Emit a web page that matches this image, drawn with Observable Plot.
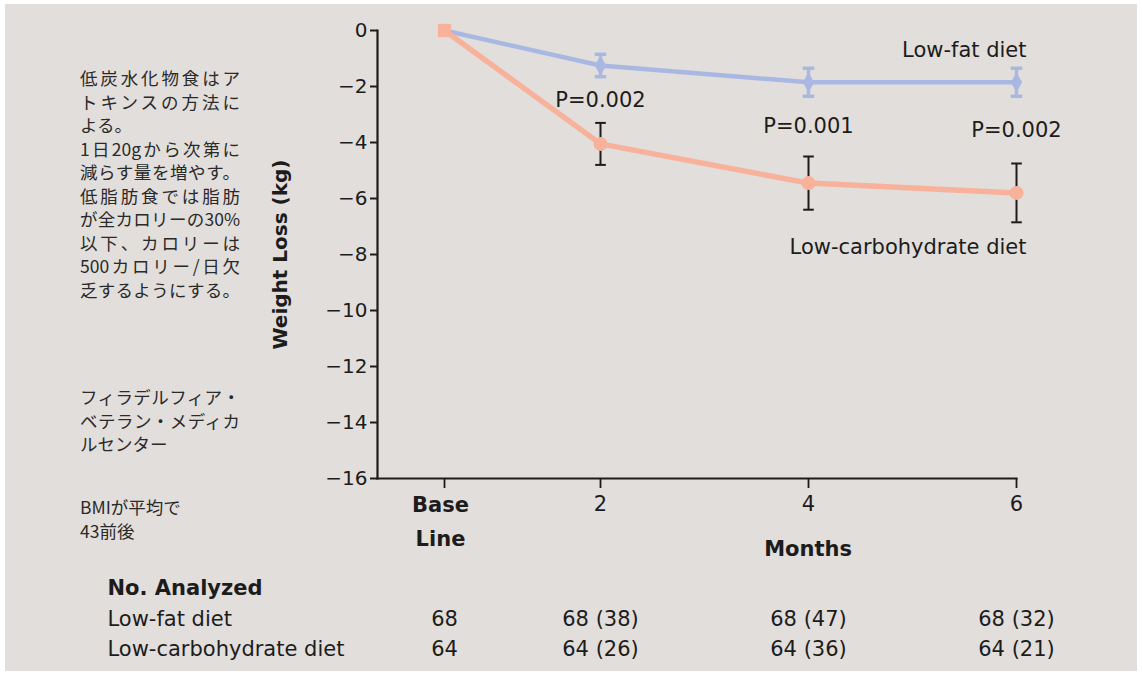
<!DOCTYPE html>
<html><head><meta charset="utf-8">
<script src="https://cdn.jsdelivr.net/npm/d3@7"></script>
<script src="https://cdn.jsdelivr.net/npm/@observablehq/plot@0.6"></script>
<style>
html,body{margin:0;padding:0;background:#fff;}
#page{position:relative;width:1142px;height:675px;overflow:hidden;}
#bg{position:absolute;left:5px;top:4px;width:1132px;height:667px;background:#e2dedb;}
#chart{position:absolute;left:0;top:0;}
.note{position:absolute;left:80px;width:160px;font-family:"Noto Sans CJK JP";font-size:17.5px;line-height:23.5px;color:#2a2a2a;}
.note div{white-space:nowrap;}
.note .j{text-align:justify;text-align-last:justify;white-space:normal;}
</style></head>
<body><div id="page"><div id="bg"></div><div id="chart"></div>
<div class="note" style="top:66px">
<div class="j">低炭水化物食はア</div>
<div class="j">トキンスの方法に</div>
<div>よる。</div>
<div class="j">1日20gから次第に</div>
<div class="j">減らす量を増やす。</div>
<div class="j">低脂肪食では脂肪</div>
<div class="j">が全カロリーの30%</div>
<div class="j">以下、カロリーは</div>
<div class="j">500カロリー/日欠</div>
<div class="j">乏するようにする。</div>
</div>
<div class="note" style="top:385px">
<div class="j">フィラデルフィア・</div>
<div class="j">ベテラン・メディカ</div>
<div>ルセンター</div>
</div>
<div class="note" style="top:495px">
<div>BMIが平均で</div>
<div>43前後</div>
</div>
</div>
<script>
const months = [0, 2, 4, 6];
const monthLabels = ["Base\nLine", "2", "4", "6"];
const lowFatMean = [0, -1.25, -1.85, -1.85];
const lowFatErr = [0, 0.4, 0.5, 0.5];
const lowCarbMean = [0, -4.05, -5.45, -5.8];
const lowCarbErr = [0, 0.75, 0.95, 1.05];
const pLabels = ["", "P=0.002", "P=0.001", "P=0.002"];
const seriesNames = ["Low-fat diet", "Low-carbohydrate diet"];
const nLowFat = ["68", "68 (38)", "68 (47)", "68 (32)"];
const nLowCarb = ["64", "64 (26)", "64 (36)", "64 (21)"];
const yTicks = [0, -2, -4, -6, -8, -10, -12, -14, -16];
const yLabel = "Weight Loss (kg)";
const xLabel = "Months";
const tableTitle = "No. Analyzed";

const blue = "#a9b8e2";
const salmon = "#f8b29b";
const ink = "#1c1c1c";

const lf = months.map((m, i) => ({m, v: lowFatMean[i], e: lowFatErr[i]}));
const lc = months.map((m, i) => ({m, v: lowCarbMean[i], e: lowCarbErr[i]}));
const lfE = lf.filter(d => d.e > 0);
const lcE = lc.filter(d => d.e > 0);
const pData = months.map((m, i) => ({m, p: pLabels[i], y: ((lowFatMean[i] - lowFatErr[i]) + (lowCarbMean[i] + lowCarbErr[i])) / 2})).filter(d => d.p);

const cap = {draw(ctx, size) { const w = Math.sqrt(size) / 2; ctx.moveTo(-w, 0); ctx.lineTo(w, 0); }};

const W = 1142, H = 675, mL = 377, mR = 126, mT = 30, mB = 197;

const plot = Plot.plot({
  width: W, height: H,
  marginLeft: mL, marginRight: mR, marginTop: mT, marginBottom: mB,
  style: {fontFamily: "'DejaVu Sans', sans-serif", color: ink, background: "transparent", overflow: "visible"},
  x: {type: "linear", domain: [0, 2, 6], range: [444, 600, 1016]},
  y: {domain: [-16, 0]},
  marks: [
    Plot.frame({anchor: "left", stroke: ink, strokeWidth: 2.2}),
    Plot.frame({anchor: "bottom", stroke: ink, strokeWidth: 2.2}),
    Plot.axisY({ticks: yTicks, tickSize: 7, tickPadding: 3, fontSize: 20, label: null, strokeWidth: 2, tickFormat: d => d === 0 ? "0" : "\u2212" + Math.abs(d)}),
    Plot.axisX({ticks: months, tickSize: 10, tickPadding: 8, fontSize: 21, label: null, strokeWidth: 1.8, tickFormat: (d, i) => i === 0 ? "" : monthLabels[i]}),
    Plot.text([months[0]], {x: d => d, text: () => monthLabels[0], frameAnchor: "bottom", lineAnchor: "top", lineHeight: 1.62, dy: 9, dx: -4, fontWeight: "bold", fontSize: 21}),
    Plot.text([xLabel], {frameAnchor: "bottom", dx: 111, dy: 77, fontWeight: "bold", fontSize: 21}),
    Plot.text([yLabel], {frameAnchor: "left", textAnchor: "middle", dx: -97, rotate: -90, fontWeight: "bold", fontSize: 20}),
    // low-fat series
    Plot.ruleX(lfE, {x: "m", y1: d => d.v - d.e, y2: d => d.v + d.e, stroke: blue, strokeWidth: 3.5}),
    Plot.dot(lfE, {x: "m", y: d => d.v - d.e, symbol: cap, r: 6.5, stroke: blue, strokeWidth: 3.5}),
    Plot.dot(lfE, {x: "m", y: d => d.v + d.e, symbol: cap, r: 6.5, stroke: blue, strokeWidth: 3.5}),
    Plot.line(lf, {x: "m", y: "v", stroke: blue, strokeWidth: 4.5}),
    Plot.dot(lfE, {x: "m", y: "v", symbol: "diamond", r: 6, fill: blue}),
    // low-carb series
    Plot.ruleX(lcE, {x: "m", y1: d => d.v - d.e, y2: d => d.v + d.e, stroke: ink, strokeWidth: 2}),
    Plot.dot(lcE, {x: "m", y: d => d.v - d.e, symbol: cap, r: 6, stroke: ink, strokeWidth: 2}),
    Plot.dot(lcE, {x: "m", y: d => d.v + d.e, symbol: cap, r: 6, stroke: ink, strokeWidth: 2}),
    Plot.line(lc, {x: "m", y: "v", stroke: salmon, strokeWidth: 5.5}),
    Plot.dot(lcE, {x: "m", y: "v", r: 7, fill: salmon}),
    Plot.dot([lc[0]], {x: "m", y: "v", symbol: "square", r: 7.5, fill: salmon}),
    // annotations
    Plot.text(pData, {x: "m", y: "y", text: "p", fontSize: 21}),
    Plot.text([lf[3]], {x: "m", y: d => d.v + d.e, text: () => seriesNames[0], textAnchor: "end", dx: 10, dy: -18, fontSize: 21}),
    Plot.text([lc[3]], {x: "m", y: d => d.v - d.e, text: () => seriesNames[1], textAnchor: "end", dx: 10, dy: 25, fontSize: 21}),
    // table
    Plot.text([tableTitle], {frameAnchor: "bottom-left", textAnchor: "start", dx: -270, dy: 116, fontWeight: "bold", fontSize: 21}),
    Plot.text([seriesNames[0]], {frameAnchor: "bottom-left", textAnchor: "start", dx: -270, dy: 147, fontSize: 21}),
    Plot.text([seriesNames[1]], {frameAnchor: "bottom-left", textAnchor: "start", dx: -270, dy: 177, fontSize: 21}),
    Plot.text(months, {x: d => d, text: (d, i) => nLowFat[i], frameAnchor: "bottom", dy: 147, fontSize: 21}),
    Plot.text(months, {x: d => d, text: (d, i) => nLowCarb[i], frameAnchor: "bottom", dy: 177, fontSize: 21})
  ]
});
document.getElementById("chart").appendChild(plot);
</script>
</body></html>
